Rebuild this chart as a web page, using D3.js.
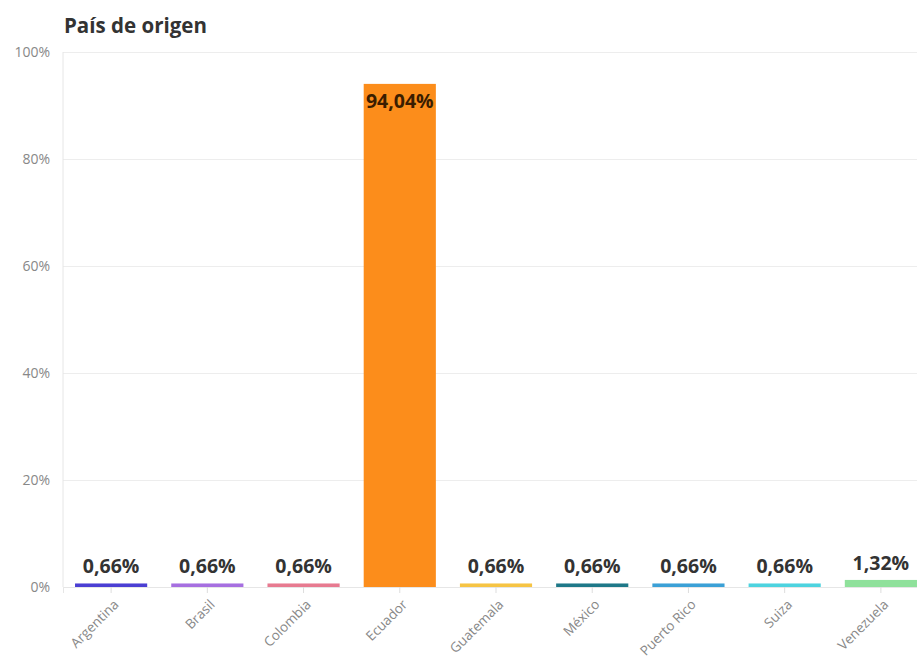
<!DOCTYPE html>
<html>
<head>
<meta charset="utf-8">
<script src="https://cdn.jsdelivr.net/npm/d3@7"></script>
<style>
  body { margin: 0; background: #fff; }
  text { font-family: "Open Sans", "Noto Sans", sans-serif; }
</style>
</head>
<body>
<div id="chart"></div>
<script>
// data
let paises = ["Argentina", "Brasil", "Colombia", "Ecuador", "Guatemala", "México", "Puerto Rico", "Suiza", "Venezuela"];
let porcentajes = [0.66, 0.66, 0.66, 94.04, 0.66, 0.66, 0.66, 0.66, 1.32];
let colores = ["#4b3fd3", "#a66fe0", "#e77a90", "#fc8d1b", "#f6c444", "#1e7888", "#3ba0d6", "#4dd3df", "#8fe19b"];
let yTicks = [0, 20, 40, 60, 80, 100];

let width = 917;
let height = 664;
let margin = { top: 52, right: 0, bottom: 77, left: 63 };

let svg = d3.select("#chart")
  .append("svg")
  .attr("width", width)
  .attr("height", height);

// title
svg.append("text")
  .attr("x", 64)
  .attr("y", 33)
  .attr("font-size", 20.5)
  .attr("font-weight", 700)
  .attr("fill", "#333")
  .text("País de origen");

let x = d3.scaleBand()
  .domain(paises)
  .range([margin.left, 929])
  .paddingInner(0.25)
  .paddingOuter(0.125);

let y = d3.scaleLinear()
  .domain([0, 100])
  .range([height - margin.bottom, margin.top]);

let fmt = v => d3.format(".2f")(v).replace(".", ",") + "%";

// gridlines + y labels
let yAxis = svg.append("g")
  .attr("transform", "translate(" + margin.left + ",0)")
  .call(d3.axisLeft(y).tickValues(yTicks).tickSize(-(width - margin.left)).tickPadding(13).tickFormat(d => d + "%"));
yAxis.select(".domain").remove();
yAxis.selectAll(".tick line").attr("stroke", "#ededed");
yAxis.selectAll(".tick text").attr("fill", "#888").attr("font-size", 14);
// left axis line
svg.append("line")
  .attr("x1", margin.left).attr("x2", margin.left)
  .attr("y1", y(100)).attr("y2", y(0))
  .attr("stroke", "#e6e6e6");

// x axis
let xAxis = svg.append("g")
  .attr("transform", "translate(0," + y(0) + ")")
  .call(d3.axisBottom(x).tickSize(6).tickPadding(4));
xAxis.select(".domain").attr("stroke", "#e6e6e6");
xAxis.selectAll(".tick line").attr("stroke", "#ddd");
xAxis.selectAll(".tick text")
  .attr("fill", "#888")
  .attr("font-size", 13.5)
  .attr("text-anchor", "end")
  .attr("x", 0)
  .attr("y", 0)
  .attr("dy", "0.35em")
  .attr("transform", "translate(5,15) rotate(-45)");

let datos = paises.map((p, i) => ({ pais: p, valor: porcentajes[i], color: colores[i] }));

svg.selectAll(".barra")
  .data(datos)
  .enter()
  .append("rect")
    .attr("class", "barra")
    .attr("x", d => x(d.pais))
    .attr("y", d => y(d.valor))
    .attr("width", x.bandwidth())
    .attr("height", d => y(0) - y(d.valor))
    .attr("fill", d => d.color);

// value labels: inside for the tall bar, above for the rest
svg.selectAll(".valor")
  .data(datos)
  .enter()
  .append("text")
    .attr("class", "valor")
    .attr("x", d => x(d.pais) + x.bandwidth() / 2)
    .attr("y", d => d.valor > 50 ? y(d.valor) + 24 : y(d.valor) - 10)
    .attr("text-anchor", "middle")
    .attr("font-size", 19.5)
    .attr("font-weight", 700)
    .attr("fill", d => d.valor > 50 ? "#3a1d00" : "#333")
    .text(d => fmt(d.valor));
</script>
</body>
</html>
